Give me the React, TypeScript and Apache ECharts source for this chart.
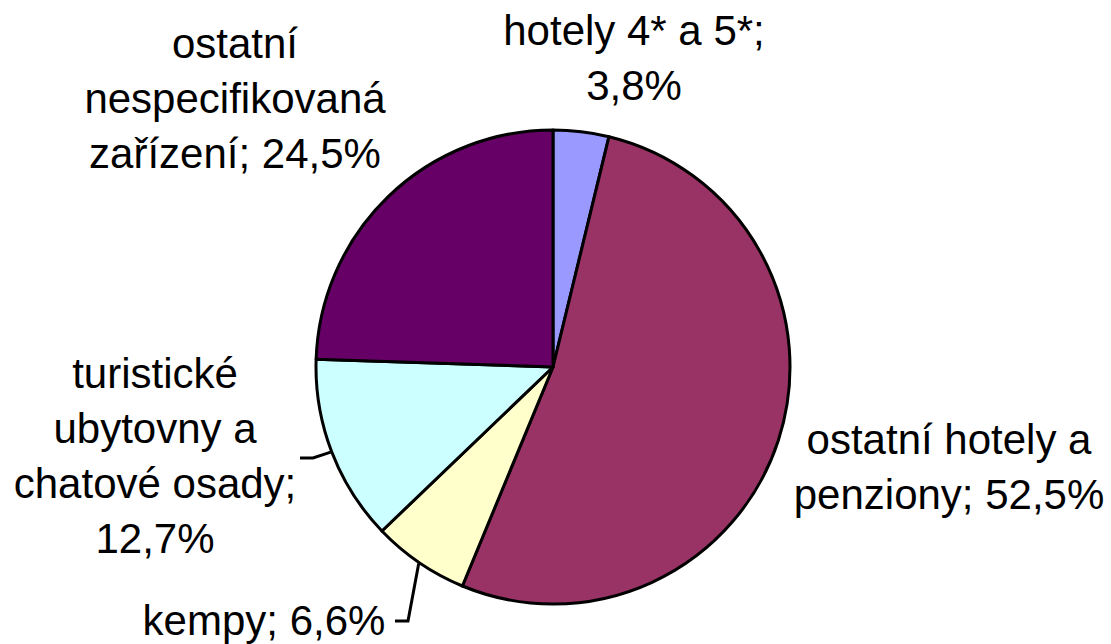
import React, { useEffect, useRef } from "react";
import * as echarts from "echarts";

// Data
const categories = [
  "hotely 4* a 5*",
  "ostatní hotely a penziony",
  "kempy",
  "turistické ubytovny a chatové osady",
  "ostatní nespecifikovaná zařízení",
];
const values = [3.8, 52.5, 6.6, 12.7, 24.5];
const colors = ["#9999FF", "#993366", "#FFFFCC", "#CCFFFF", "#660066"];
// Wrapped label names (line breaks as in the reference)
const wrappedNames = [
  "hotely 4* a 5*",
  "ostatní hotely a\npenziony",
  "kempy",
  "turistické\nubytovny a\nchatové osady",
  "ostatní\nnespecifikovaná\nzařízení",
];
const valueOnNewLine = [true, false, false, true, false];
const showLeader = [false, false, true, true, false];

// Layout (positions of label blocks, not data)
const CENTER: [number, number] = [553, 367];
const RADIUS = 237;
const labelPos: [number, number][] = [
  [634, 58],
  [949, 467],
  [264, 620],
  [155, 456],
  [235, 98],
];
const leaderBends: ([number, number][] | null)[] = [
  null,
  null,
  [
    [408, 621],
    [395, 621],
  ],
  [
    [313, 458],
    [300, 458],
  ],
  null,
];

function fmtValue(v: number) {
  return v.toFixed(1).replace(".", ",") + "%";
}

function edgePoint(idx: number): [number, number] {
  const total = values.reduce((a, b) => a + b, 0);
  let cum = 0;
  for (let i = 0; i < idx; i++) cum += values[i];
  const mid = ((cum + values[idx] / 2) / total) * Math.PI * 2;
  const r = RADIUS + 1;
  return [CENTER[0] + r * Math.sin(mid), CENTER[1] - r * Math.cos(mid)];
}

export default function App() {
  const ref = useRef<HTMLDivElement>(null);
  useEffect(() => {
    if (!ref.current) return;
    const chart = echarts.init(ref.current, undefined, { renderer: "svg" });
    const data = categories.map((name, i) => ({
      name,
      value: values[i],
      itemStyle: { color: colors[i] },
      label: {
        formatter:
          wrappedNames[i] + ";" + (valueOnNewLine[i] ? "\n" : " ") + fmtValue(values[i]),
      },
      labelLine: { show: showLeader[i] },
    }));
    chart.setOption({
      animation: false,
      backgroundColor: "#ffffff",
      series: [
        {
          type: "pie",
          center: CENTER,
          radius: RADIUS,
          startAngle: 90,
          clockwise: true,
          avoidLabelOverlap: false,
          itemStyle: { borderColor: "#000000", borderWidth: 3 },
          emphasis: { disabled: true },
          label: {
            show: true,
            position: "outside",
            color: "#000000",
            fontFamily: "'Liberation Sans', Arial, sans-serif",
            fontSize: 42,
            lineHeight: 55,
            align: "center",
          },
          labelLine: {
            show: false,
            lineStyle: { color: "#000000", width: 3 },
          },
          labelLayout: (params: any) => {
            const i = params.dataIndex;
            const out: any = {
              x: labelPos[i][0],
              y: labelPos[i][1],
              align: "center",
              verticalAlign: "middle",
            };
            const bends = leaderBends[i];
            if (bends) {
              out.labelLinePoints = [edgePoint(i), bends[0], bends[1]];
            }
            return out;
          },
          data,
        },
      ],
    });
    return () => chart.dispose();
  }, []);
  return (
    <div
      ref={ref}
      style={{
        position: "fixed",
        left: 0,
        top: 0,
        width: 1111,
        height: 644,
        background: "#ffffff",
      }}
    />
  );
}
